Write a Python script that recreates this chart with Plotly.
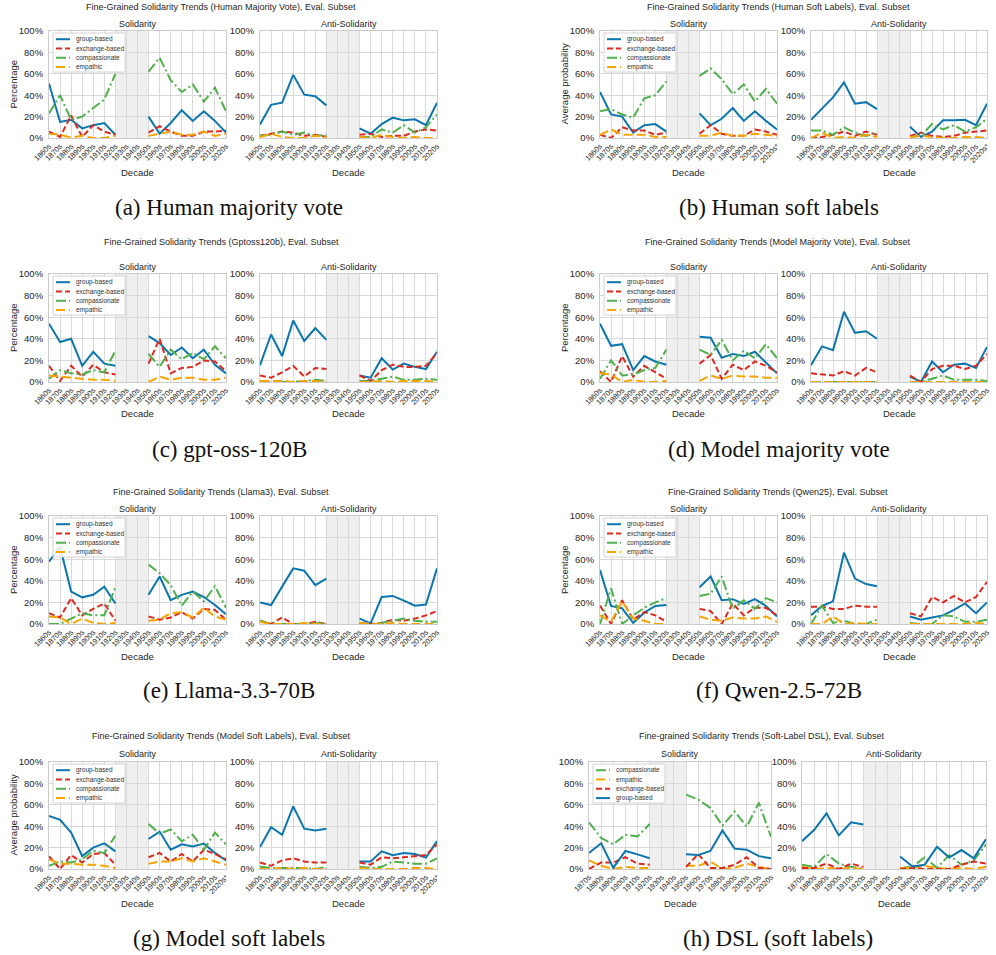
import plotly.graph_objects as go

W, H = 996, 955
BLUE = "#0b76ad"; RED = "#dd2a1f"; GREEN = "#4fb04c"; ORANGE = "#f7a400"
INK = "#262626"; GRIDC = "#d9d9d9"; SPINE = "#cccccc"; SHADE = "#efefef"
SANS = "Liberation Sans, Arial, sans-serif"
SERIF = "Liberation Serif, Times New Roman, serif"
N = None

DECADES = ["1860s", "1870s", "1880s", "1890s", "1900s", "1910s", "1920s", "1930s", "1940s",
           "1950s", "1960s", "1970s", "1980s", "1990s", "2000s", "2010s", "2020s"]
DECADES_STAR = DECADES[:-1] + ["2020s*"]
DECADES_DSL = DECADES[1:]
Y_TICKS = [0, 20, 40, 60, 80, 100]
Y_TEXT = ["0%", "20%", "40%", "60%", "80%", "100%"]

STYLE = {
    "group-based": dict(color=BLUE, dash="solid"),
    "exchange-based": dict(color=RED, dash="6px,3px"),
    "compassionate": dict(color=GREEN, dash="10px,3px,2px,3px"),
    "empathic": dict(color=ORANGE, dash="9px,4px"),
}
ORDER = ["group-based", "exchange-based", "compassionate", "empathic"]
ORDER_DSL = ["compassionate", "empathic", "exchange-based", "group-based"]

# (a) human majority vote
A_SOL = {
    "group-based":    [51, 15, 17, 9, 12, 14, 3, N, N, 20, 4, 14, 26, 16, 25, 16, 5],
    "exchange-based": [6, 1, 21, 1, 12, 6, 3, N, N, 5, 11, 6, 2, 2, 6, 6, 7],
    "compassionate":  [23, 40, 17, 20, 28, 36, 60, N, N, 62, 75, 54, 43, 50, 34, 47, 25],
    "empathic":       [4, 3, 0.5, 2, 0, 0, 2, N, N, 2, 4, 6, 3, 3, 6, 2, 4],
}
A_ANTI = {
    "group-based":    [12.5, 31, 33, 59, 40.5, 39, 30.5, N, N, 9, 4, 13, 19, 16.5, 17.5, 12, 33],
    "exchange-based": [2, 4, 6, 5, 2, 3, 1, N, N, 3, 4, 1, 2, 2, 6, 8, 7],
    "compassionate":  [2, 3, 6, 3, 5, 2, 3, N, N, 1, 1, 8, 5, 12, 5, 10, 22],
    "empathic":       [1, 4, 1, 0, 0, 2, 1, N, N, 1, 0, 3, 1, 0, 1, 0, 0],
}
# (b) human soft labels
B_SOL = {
    "group-based":    [43, 22, 20, 5, 12, 13, 6, N, N, 23, 12, 18, 28, 16, 25, 16, 8],
    "exchange-based": [3, 0, 10, 7, 7, 3, 5, N, N, 4, 12, 4, 2, 2, 8, 6, 3],
    "compassionate":  [25, 27, 22, 19, 37, 40, 53, N, N, 58, 65, 55, 41, 50, 34, 46, 32],
    "empathic":       [3, 8, 3, 3, 3, 1, 1, N, N, 2, 2, 5, 2, 2, 4, 3, 2],
}
B_ANTI = {
    "group-based":    [17, 28, 38, 52, 32, 33.5, 27, N, N, 10.5, 1, 6, 16.5, 16.5, 17, 12, 32],
    "exchange-based": [0, 1, 3, 6, 2, 6, 3, N, N, 2, 5, 2, 1, 2, 5, 6, 7],
    "compassionate":  [7, 7, 3, 10, 5, 2, 5, N, N, 1, 2, 13, 8, 12, 6, 10, 18],
    "empathic":       [0, 5, 0, 1, 0, 3, 1, N, N, 1, 2, 1, 0, 0, 1, 1, 0],
}
# (c) gpt-oss-120B
C_SOL = {
    "group-based":    [54, 37, 40, 15, 28, 17, 15, N, N, 42.5, 36, 25, 32, 22, 30, 16, 8],
    "exchange-based": [15, 1, 15, 5, 16, 9, 7, N, N, 17, 40, 8, 13, 14, 20, 19, 10],
    "compassionate":  [3, 11, 8, 7, 11, 9, 29, N, N, 26, 14, 30, 21, 27, 21, 33, 22],
    "empathic":       [6, 5, 4, 3, 2, 2, 1, N, N, 0, 5, 2, 4, 4, 2, 2, 4],
}
C_ANTI = {
    "group-based":    [15.5, 44, 24, 57, 38, 50, 39, N, N, 6, 4, 22, 11.5, 17, 14, 12, 28],
    "exchange-based": [6, 4, 9, 15, 5, 13, 12, N, N, 6, 1, 11, 16, 14, 14, 15, 27],
    "compassionate":  [0, 0, 0, 0, 1, 2, 1, N, N, 1, 1, 3, 5, 2, 2, 3, 2],
    "empathic":       [1, 1, 1, 0, 1, 1, 0, N, N, 0, 0, 1, 0, 1, 1, 1, 0],
}
# (d) model majority vote
D_SOL = {
    "group-based":    [54, 33.5, 35, 11, 24, 19, 16, N, N, 42, 41, 22.5, 26, 24, 28, 18, 8],
    "exchange-based": [10, 0, 24, 5, 15, 9, 3, N, N, 17, 25, 3, 16, 11, 19, 15, 9],
    "compassionate":  [3, 20, 6, 7, 11, 13, 30, N, N, 30, 25, 39, 20, 29, 22, 35, 22],
    "empathic":       [8, 7, 0, 2, 0, 0, 1, N, N, 1, 6, 3, 6, 5, 5, 4, 4],
}
D_ANTI = {
    "group-based":    [15.5, 33, 29.5, 65, 45.5, 47, 40, N, N, 5, 0, 19, 9, 16, 17, 13, 32.5],
    "exchange-based": [8, 7, 6, 10, 6, 13, 9, N, N, 6, 0, 12, 15, 15, 12, 15, 26],
    "compassionate":  [0, 0, 0, 0, 0, 0, 0, N, N, 0, 0, 3, 6, 2, 2, 2, 1],
    "empathic":       [0, 0, 0, 0, 0, 0, 0, N, N, 0, 0, 0, 0, 0, 0, 0, 0],
}
# (e) Llama-3.3-70B
E_SOL = {
    "group-based":    [57.7, 71.6, 30, 24.7, 27, 34.6, 19, N, N, 27, 44, 22, 27, 30, 25, 17.6, 9],
    "exchange-based": [10, 6, 24, 8, 14, 19, 3, N, N, 7, 4, 6, 11, 5, 14, 13, 4],
    "compassionate":  [0, 0, 5, 10, 8, 8, 34, N, N, 55, 47, 36, 17, 30, 21, 35, 15],
    "empathic":       [7, 6, 0, 5, 1, 0, 1, N, N, 3, 4, 10, 11, 6, 15, 7, 4],
}
E_ANTI = {
    "group-based":    [20, 17.6, 34.6, 51.5, 49.4, 36, 42, N, N, 5, 0.6, 25, 26, 21.6, 17, 18, 51.5],
    "exchange-based": [3, 0, 6, 0, 0, 2, 0, N, N, 1, 0, 1, 4, 3, 5, 8, 12],
    "compassionate":  [3, 0, 0, 0, 0, 1, 0, N, N, 0, 0, 1, 3, 5, 3, 2, 2],
    "empathic":       [2, 0, 0, 0, 1, 0, 0, N, N, 1, 0, 0, 1, 0, 0, 0, 0],
}
# (f) Qwen-2.5-72B
F_SOL = {
    "group-based":    [50, 16.7, 14.5, 1, 10.5, 16.7, 17.6, N, N, 34, 44, 22, 23, 18.5, 23, 16.7, 7],
    "exchange-based": [17, 0, 22, 4, 11, 8, 2, N, N, 14, 12, 0, 19, 8, 15, 15, 8],
    "compassionate":  [0, 33, 0, 8, 15, 20, 24, N, N, 26, 28, 44, 14, 22, 14, 24, 20],
    "empathic":       [8, 2, 21, 5, 3, 0, 0, N, N, 7, 4, 3, 6, 5, 5, 7, 2],
}
F_ANTI = {
    "group-based":    [8, 16.7, 21, 66, 42, 37, 35, N, N, 7, 4, 6, 8, 13, 19, 10, 20],
    "exchange-based": [16, 16, 14, 14, 17, 16, 16, N, N, 10, 7, 25, 20, 26, 20, 25, 39],
    "compassionate":  [0, 17, 1, 3, 0, 0, 4, N, N, 1, 0, 0, 8, 7, 2, 2, 4],
    "empathic":       [0, 0, 7, 0, 1, 0, 0, N, N, 0, 0, 0, 0, 0, 0, 1, 0],
}
# (g) model soft labels
G_SOL = {
    "group-based":    [49.5, 46, 34, 12, 20, 24, 16.5, N, N, 28, 35, 18, 23, 21, 23.7, 15, 8],
    "exchange-based": [12, 0, 13, 6, 14, 15, 4, N, N, 11, 15, 7, 14, 7, 18, 14, 9],
    "compassionate":  [3, 7, 6, 9, 17, 15, 31, N, N, 42, 33, 37, 26, 32, 18, 34, 23],
    "empathic":       [9, 5, 5, 4, 4, 3, 1, N, N, 5, 7, 7, 10, 7, 10, 7, 4],
}
G_ANTI = {
    "group-based":    [20.5, 39, 32, 58.5, 37.7, 36, 37.7, N, N, 7, 7, 16.5, 12.8, 15, 14, 10.6, 26],
    "exchange-based": [6, 3, 8, 10, 7, 6, 6, N, N, 6, 4, 11, 10, 11, 12, 13, 23],
    "compassionate":  [2, 1, 1, 1, 1, 0, 2, N, N, 2, 1, 2, 7, 6, 5, 5, 10],
    "empathic":       [0, 0, 1, 0, 1, 0, 0, N, N, 1, 0, 0, 0, 0, 1, 1, 0],
}
# (h) DSL soft labels (starts at 1870s)
H_SOL = {
    "compassionate":  [43.6, 29, 23, 32, 30.5, 42, N, N, 69.5, 65, 57, 40.5, 53.7, 39.6, 62, 30],
    "empathic":       [8, 3, 0, 2, 1, 1, N, N, 3, 3, 7, 0, 1, 5, 2, 0],
    "exchange-based": [0, 6, 6, 11, 5, 4, N, N, 2, 14, 1, 1, 4, 11, 1, 0],
    "group-based":    [15, 24, 1, 16.8, 13.7, 10, N, N, 13.7, 13, 16.8, 36, 19, 18, 12, 10],
}
H_ANTI = {
    "compassionate":  [4, 2, 14, 5, 2, 0, N, N, 1, 2, 11, 1, 13, 4, 8, 23],
    "empathic":       [2, 0, 1, 0, 1, 0, N, N, 1, 1, 3, 1, 0, 1, 0, 2],
    "exchange-based": [1, 1, 5, 0, 5, 2, N, N, 0, 1, 0, 0, 0, 4, 7, 5],
    "group-based":    [26, 36.6, 52, 31.4, 43.6, 41.5, N, N, 11.6, 2.4, 4, 20.7, 10.7, 17.7, 10, 28],
}

PANELS = [
    dict(title="Fine-Grained Solidarity Trends (Human Majority Vote), Eval. Subset",
         caption="(a) Human majority vote", ylabel="Percentage", labels=DECADES,
         order=ORDER, sol=A_SOL, anti=A_ANTI),
    dict(title="Fine-Grained Solidarity Trends (Human Soft Labels), Eval. Subset",
         caption="(b) Human soft labels", ylabel="Average probability", labels=DECADES_STAR,
         order=ORDER, sol=B_SOL, anti=B_ANTI),
    dict(title="Fine-Grained Solidarity Trends (Gptoss120b), Eval. Subset",
         caption="(c) gpt-oss-120B", ylabel="Percentage", labels=DECADES,
         order=ORDER, sol=C_SOL, anti=C_ANTI),
    dict(title="Fine-Grained Solidarity Trends (Model Majority Vote), Eval. Subset",
         caption="(d) Model majority vote", ylabel="Percentage", labels=DECADES,
         order=ORDER, sol=D_SOL, anti=D_ANTI),
    dict(title="Fine-Grained Solidarity Trends (Llama3), Eval. Subset",
         caption="(e) Llama-3.3-70B", ylabel="Percentage", labels=DECADES,
         order=ORDER, sol=E_SOL, anti=E_ANTI),
    dict(title="Fine-Grained Solidarity Trends (Qwen25), Eval. Subset",
         caption="(f) Qwen-2.5-72B", ylabel="Percentage", labels=DECADES,
         order=ORDER, sol=F_SOL, anti=F_ANTI),
    dict(title="Fine-Grained Solidarity Trends (Model Soft Labels), Eval. Subset",
         caption="(g) Model soft labels", ylabel="Average probability", labels=DECADES_STAR,
         order=ORDER, sol=G_SOL, anti=G_ANTI),
    dict(title="Fine-grained Solidarity Trends (Soft-Label DSL), Eval. Subset",
         caption="(h) DSL (soft labels)", ylabel=None, labels=DECADES_DSL,
         order=ORDER_DSL, sol=H_SOL, anti=H_ANTI),
]

# pixel geometry of the page
COLS = [dict(sol=(49, 226), anti=(260, 437), ylab=13, sup=221, cap=229),
        dict(sol=(600, 777), anti=(811, 987), ylab=564, sup=778, cap=779)]
ROWS = [dict(top=31, bot=138, sup=7, sub=24, dec=172, cap=207),
        dict(top=274, bot=382, sup=242, sub=267, dec=413, cap=449),
        dict(top=516, bot=624, sup=492, sub=509, dec=656, cap=690),
        dict(top=762, bot=869, sup=736, sub=754, dec=903, cap=938)]
H_COL = dict(sol=(589, 771), anti=(802, 986), ylab=None, sup=762, cap=778)


def px(x):
    return x / W


def py(y):
    return 1 - y / H


def note(fig, text, x, y, size, angle=0, anchor="center", family=SANS, color=INK):
    fig.add_annotation(text=text, x=px(x), y=py(y), xref="paper", yref="paper", showarrow=False,
                       xanchor=anchor, yanchor="middle", textangle=angle,
                       font=dict(family=family, size=size, color=color))


def add_legend(fig, left, top, order):
    fig.add_shape(type="rect", xref="paper", yref="paper", layer="above",
                  x0=px(left + 4), x1=px(left + 76), y0=py(top + 2), y1=py(top + 41),
                  line=dict(color="#d4d4d4", width=1), fillcolor="rgba(255,255,255,0.85)")
    for i, name in enumerate(order):
        yy = top + 8.2 + 9.3 * i
        st = STYLE[name]
        fig.add_shape(type="line", xref="paper", yref="paper", layer="above",
                      x0=px(left + 7), x1=px(left + 21), y0=py(yy), y1=py(yy),
                      line=dict(color=st["color"], width=2, dash=st["dash"]))
        note(fig, name, left + 25, yy, 6.5, anchor="left", color="#333333")


fig = go.Figure()
layout = {}
n = 0
for p, panel in enumerate(PANELS):
    col = H_COL if p == 7 else COLS[p % 2]
    row = ROWS[p // 2]
    labels = panel["labels"]
    for k, (key, sub) in enumerate([("sol", "Solidarity"), ("anti", "Anti-Solidarity")]):
        n += 1
        sfx = "" if n == 1 else str(n)
        x0, x1 = col[key]
        layout["xaxis" + sfx] = dict(
            domain=[px(x0), px(x1)], anchor="y" + sfx, type="category", automargin=False,
            categoryorder="array", categoryarray=labels, range=[0, len(labels) - 1],
            tickvals=labels, ticktext=labels, tickangle=-45, ticks="",
            tickfont=dict(family=SANS, size=7.5, color=INK),
            showgrid=True, gridcolor=GRIDC, gridwidth=1, zeroline=False,
            showline=True, mirror=True, linecolor=SPINE, linewidth=1, fixedrange=True)
        layout["yaxis" + sfx] = dict(
            domain=[py(row["bot"]), py(row["top"])], anchor="x" + sfx, range=[0, 100],
            automargin=False,
            tickvals=Y_TICKS, ticktext=Y_TEXT, ticks="outside", ticklen=3, tickcolor="rgba(0,0,0,0)",
            tickfont=dict(family=SANS, size=9.5, color=INK),
            showgrid=True, gridcolor=GRIDC, gridwidth=1, zeroline=False,
            showline=True, mirror=True, linecolor=SPINE, linewidth=1, fixedrange=True)
        data = panel[key]
        for name in panel["order"]:
            st = STYLE[name]
            fig.add_trace(go.Scatter(x=labels, y=data[name], mode="lines", name=name,
                                     line=dict(color=st["color"], width=2, dash=st["dash"]),
                                     xaxis="x" + sfx, yaxis="y" + sfx, showlegend=False,
                                     hoverinfo="skip"))
        fig.add_shape(type="rect", xref="x" + sfx, yref="y" + sfx + " domain",
                      x0="1920s", x1="1950s", y0=0, y1=1, fillcolor=SHADE,
                      line=dict(width=0), layer="below")
        cx = (x0 + x1) / 2
        note(fig, sub, cx, row["sub"], 9)
        note(fig, "Decade", cx, row["dec"], 9.5)
        if k == 0:
            add_legend(fig, x0, row["top"], panel["order"])
            if panel["ylabel"]:
                note(fig, panel["ylabel"], col["ylab"], (row["top"] + row["bot"]) / 2, 9.5, angle=-90)
    note(fig, panel["title"], col["sup"], row["sup"], 9)
    note(fig, panel["caption"], col["cap"], row["cap"], 23, family=SERIF, color="#111111")

fig.update_layout(width=W, height=H, margin=dict(l=0, r=0, t=0, b=0, pad=0, autoexpand=False),
                  paper_bgcolor="white", plot_bgcolor="white", showlegend=False, **layout)
# page body has a default 8px margin; drop it so the figure sits at the window origin
fig.write_html("out.html", config={"displayModeBar": False},
               post_script="document.body.style.margin='0px';")
